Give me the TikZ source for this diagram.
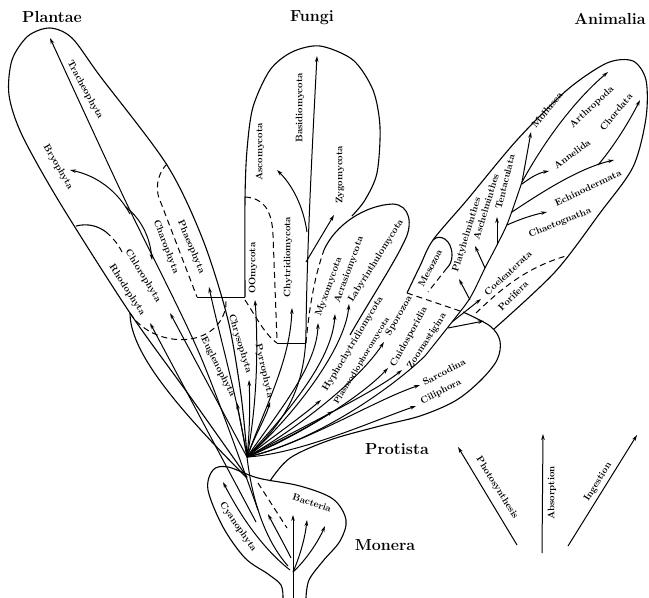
\documentclass[tikz,border=0pt]{standalone}
\usepackage{tikz}
\usetikzlibrary{arrows.meta,positioning,calc}

\tikzset{
  lobe/.style={line width=1.1pt, line join=round},
  divide/.style={line width=1pt, dash pattern=on 6pt off 4pt},
  stem/.style={line width=1pt},
  branch/.style={line width=1pt, -{Stealth[length=6pt,width=3.6pt]}},
  phylum/.style={font=\fontsize{9.5}{10}\selectfont\bfseries, inner sep=0.5pt},
  smallphylum/.style={phylum, font=\fontsize{8}{9}\selectfont\bfseries},
  kingdom/.style={font=\fontsize{16}{18}\selectfont\bfseries, inner sep=0pt}
}

\begin{document}
\begin{tikzpicture}[x=1pt, y=-1pt]
  \useasboundingbox (0,0) rectangle (649,598);
  \coordinate (fan) at (247,457);
  \coordinate (mroot) at (293,572);

  % kingdom names
  \node[kingdom] (plantae)  at (52,17)   {Plantae};
  \node[kingdom] (fungi)    at (312,18)  {Fungi};
  \node[kingdom] (animalia) at (610,19)  {Animalia};
  \node[kingdom] (protista) at (397,449) {Protista};
  \node[kingdom] (monera)   at (385,545) {Monera};

  % Plantae
  \draw[lobe] plot[smooth, tension=0.5] coordinates {(247,477) (189,395) (130,313) (60,203) (22,135) (9,95) (12,60) (28,36) (50,28) (72,38) (100,76) (167,165) (203,240) (228,320) (241,395) (247,455)};
  \draw[lobe] (76,226) .. controls (88,223) and (98,226) .. (106,232);
  \draw[divide] (106,232) .. controls (113,238) and (118,244) .. (122,252);
  \draw[divide] (167,164) .. controls (156,175) and (155,192) .. (161,203) -- (197,297);
  \draw[stem] (197,297) -- (245,297);
  \draw[divide] (130,313) .. controls (150,345) and (205,350) .. (222,318) .. controls (226,310) and (227,303) .. (225,297);
  \draw[branch] plot[smooth, tension=0.5] coordinates {(258,510) (200,355) (125,200) (50,38)};
  \draw[branch] (130,214) .. controls (118,192) and (98,176) .. (70,170);
  \draw[branch] (126,207) .. controls (142,220) and (150,238) .. (152,260);
  \draw[branch] (fan) .. controls (238,400) and (218,330) .. (209,287);
  \draw[branch] (fan) -- (170,313);
  \draw[branch] (256,522) -- (150,323);
  \draw[branch] (fan) -- (237,403);
  \draw[branch] (fan) .. controls (250,430) and (250,400) .. (249,380);
  \draw[branch] (fan) .. controls (255,435) and (266,417) .. (270,402);
  \node[phylum, rotate=-61] (trach)   at (85,90)   {Tracheophyta};
  \node[phylum, rotate=-60] (bryo)    at (58,167)  {Bryophyta};
  \node[phylum, rotate=-67] (phaeo)   at (191,247) {Phaeophyta};
  \node[phylum, rotate=-69] (charo)   at (166,247) {Charophyta};
  \node[phylum, rotate=-58] (chloro)  at (143,276) {Chlorophyta};
  \node[phylum, rotate=-57] (rhodo)   at (127,290) {Rhodophyta};
  \node[phylum, rotate=-63] (eugleno) at (218,367) {Euglenophyta};
  \node[phylum, rotate=-73] (chryso)  at (240,344) {Chrysophyta};
  \node[phylum, rotate=-77] (pyrro)   at (264,371) {Pyrrophyta};

  % Fungi
  \draw[lobe] plot[smooth, tension=0.5] coordinates {(245,297) (245,200) (247,150) (253,107) (270,70) (292,52) (320,46) (353,60) (373,90) (380,127) (377,173) (365,200) (352,216)};
  \draw[divide] (245,197) .. controls (262,198) and (272,208) .. (273,235) -- (277,340);
  \draw[divide] (245,300) .. controls (255,315) and (265,335) .. (277,343);
  \draw[stem] (277,343) -- (306,343);
  \draw[branch] (fan) .. controls (282,425) and (306,390) .. (306,330) .. controls (307,250) and (312,150) .. (317,56);
  \draw[branch] (307,232) .. controls (303,205) and (292,185) .. (277,170);
  \draw[branch] (306,262) -- (334,215);
  \draw[branch] (fan) .. controls (258,400) and (258,340) .. (255,300);
  \draw[branch] (fan) .. controls (268,400) and (290,360) .. (292,308);
  \node[phylum, rotate=90] (oomy)    at (253,268) {OOmycota};
  \node[phylum, rotate=90] (chytrid) at (288,257) {Chytridiomycota};
  \node[phylum, rotate=90] (asco)    at (260,152) {Ascomycota};
  \node[phylum, rotate=90] (basidio) at (300,108) {Basidiomycota};
  \node[phylum, rotate=90] (zygo)    at (340,175) {Zygomycota};

  % slime moulds
  \draw[divide] (306,343) .. controls (309,310) and (314,278) .. (324,250);
  \draw[lobe] (324,250) .. controls (335,225) and (365,205) .. (393,204) .. controls (410,205) and (413,224) .. (405,240) .. controls (395,262) and (370,300) .. (350,335);
  \draw[branch] (fan) .. controls (280,410) and (317,365) .. (318,323);
  \draw[branch] (fan) .. controls (285,415) and (332,362) .. (335,314);
  \draw[branch] (fan) .. controls (290,420) and (345,350) .. (349,304);
  \node[phylum, rotate=70] (myxo)  at (329,287) {Myxomycota};
  \node[phylum, rotate=70] (acras) at (349,270) {Acrasiomycota};
  \node[phylum, rotate=58] (labyr) at (376,261) {Labyrinthulomycota};

  % Protista
  \draw[lobe] (130,313) .. controls (130,350) and (172,403) .. (247,478);
  \draw[lobe] plot[smooth, tension=0.55] coordinates {(270,481) (290,458) (330,440) (380,426) (420,416) (455,401) (480,381) (497,360) (500,341) (490,326) (463,312)};
  \draw[branch] (fan) .. controls (275,435) and (300,418) .. (321,400);
  \draw[branch] (fan) .. controls (280,442) and (312,425) .. (333,411);
  \draw[branch] (fan) .. controls (292,432) and (358,382) .. (384,342);
  \draw[branch] (fan) .. controls (296,437) and (360,398) .. (388,368);
  \draw[branch] (fan) .. controls (296,430) and (375,392) .. (402,370);
  \draw[branch] (fan) .. controls (300,446) and (375,400) .. (420,385);
  \draw[branch] (fan) .. controls (300,454) and (375,420) .. (416,406);
  \node[phylum, rotate=59] (hypho)  at (353,344) {Hyphochytridiomycota};
  \node[smallphylum, rotate=59] (plasmo) at (362,361) {Plasmodiophoromycota};
  \node[phylum, rotate=60] (sporo)  at (399,316) {Sporozoa};
  \node[phylum, rotate=61] (cnido)  at (409,337) {Cnidosporidia};
  \node[phylum, rotate=57] (zoomas) at (427,341) {Zoomastigina};
  \node[phylum, rotate=62] (meso)   at (430,268) {Mesozoa};
  \node[phylum, rotate=28] (sarco)  at (444,372) {Sarcodina};
  \node[phylum, rotate=27] (cilio)  at (441,392) {Ciliphora};

  % Animalia
  \draw[lobe] plot[smooth, tension=0.5] coordinates {(407,293) (420,266) (433,240) (467,200) (517,140) (567,90) (607,63) (633,61) (646,80) (646,118) (633,167) (600,213) (555,272) (494,329)};
  \draw[divide] (407,293) -- (463,312);
  \draw[lobe] (433,240) .. controls (440,233) and (452,240) .. (452,255) .. controls (452,261) and (450,265) .. (447,268);
  \draw[divide] (447,268) -- (428,292);
  \draw[divide] (476,313) .. controls (500,290) and (525,268) .. (566,256);
  \draw[stem] (fan) .. controls (320,440) and (395,385) .. (425,356);
  \draw[stem] plot[smooth, tension=0.5] coordinates {(425,356) (452,322) (470,298) (485,268) (497,245) (508,222) (522,182)};
  \draw[branch] (470,300) -- (459,279);
  \draw[branch] (485,268) -- (475,246);
  \draw[branch] (497,245) -- (497,217);
  \draw[branch] (452,322) -- (481,299);
  \draw[branch] (448,328) -- (484,321);
  \draw[branch] (507,225) .. controls (518,220) and (532,215) .. (547,212);
  \draw[branch] (512,212) .. controls (545,190) and (580,168) .. (614,160);
  \draw[branch] (598,165) .. controls (615,145) and (630,120) .. (640,100);
  \draw[branch] (522,184) .. controls (530,178) and (538,173) .. (549,171);
  \draw[branch] (522,182) -- (531,132);
  \draw[branch] (522,182) .. controls (545,140) and (575,100) .. (608,72);
  \node[phylum, rotate=73] (platy)  at (467,235) {Platyhelminthes};
  \node[phylum, rotate=73] (aschel) at (486,207) {Aschelminthes};
  \node[phylum, rotate=76] (tentac) at (505,182) {Tentaculata};
  \node[phylum, rotate=50] (mollus) at (547,110) {Mollusca};
  \node[phylum, rotate=43] (arthro) at (592,107) {Arthropoda};
  \node[phylum, rotate=36] (annel)  at (572,154) {Annelida};
  \node[phylum, rotate=50] (chord)  at (616,112) {Chordata};
  \node[phylum, rotate=25] (echino) at (588,188) {Echinodermata};
  \node[phylum, rotate=22] (chaeto) at (560,223) {Chaetognatha};
  \node[phylum, rotate=43] (coelen) at (508,273) {Coelenterata};
  \node[phylum, rotate=45] (porif)  at (513,296) {Porifera};

  % Monera
  \draw[lobe] plot[smooth, tension=0.55] coordinates {(283,598) (281,585) (268,574) (245,558) (223,527) (208,490) (213,470) (228,467) (258,478) (300,486) (333,499) (346,520) (340,541) (323,561) (309,580) (306,598)};
  \draw[divide] (258,483) -- (287,528);
  \draw[stem] (293,598) -- (mroot);
  \draw[stem] (288,566) .. controls (265,540) and (252,500) .. (fan);
  \draw[branch] (mroot) -- (293,515);
  \draw[branch] (mroot) .. controls (300,556) and (305,538) .. (307,520);
  \draw[branch] (mroot) .. controls (306,560) and (318,542) .. (325,526);
  \draw[branch] (291,558) .. controls (282,540) and (275,528) .. (268,514);
  \draw[branch] (290,570) .. controls (262,548) and (240,515) .. (223,482);
  \node[phylum, rotate=-55] (cyano) at (238,527) {Cyanophyta};
  \node[phylum, rotate=-18] (bact)  at (312,503) {Bacteria};

  % modes of nutrition
  \draw[branch] (517,545) -- (458,447);
  \draw[branch] (542,553) -- (543,434);
  \draw[branch] (568,546) -- (637,435);
  \node[phylum, rotate=-58] (photo)  at (497,488) {Photosynthesis};
  \node[phylum, rotate=90]  (absorb) at (552,493) {Absorption};
  \node[phylum, rotate=58]  (ingest) at (598,482) {Ingestion};
\end{tikzpicture}
\end{document}
